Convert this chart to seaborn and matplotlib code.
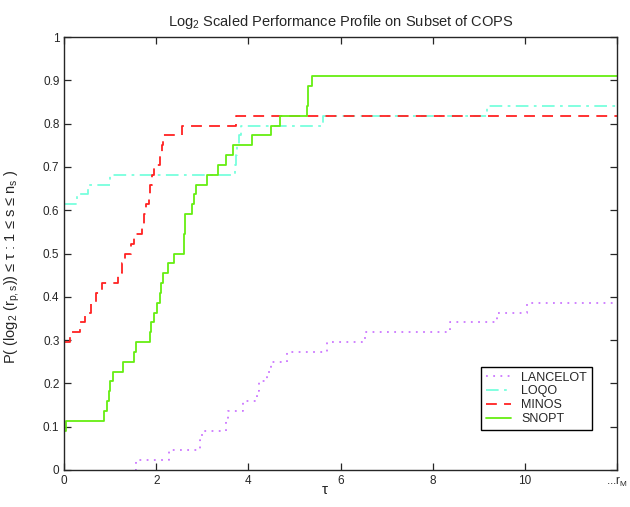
import matplotlib
matplotlib.use("Agg")
import matplotlib.pyplot as plt
import numpy as np
import pandas as pd
import seaborn as sns

N_PROBLEMS = 44
X_MAX = 12

# step breakpoints (tau) and number of problems solved within that ratio
LANCELOT_X = [1.54, 1.55, 2.28, 2.95, 2.99, 3.51, 3.55, 3.89, 4.18, 4.22, 4.40, 4.50, 4.84, 5.70, 6.54, 8.37, 9.40, 10.05, 12]
LANCELOT_N = [0, 1, 2, 3, 4, 5, 6, 7, 8, 9, 10, 11, 12, 13, 14, 15, 16, 17, 17]

LOQO_X = [0, 0.28, 0.52, 0.99, 3.70, 3.73, 3.76, 3.80, 3.83, 5.63, 9.18, 12]
LOQO_N = [27, 28, 29, 30, 31, 32, 33, 34, 35, 36, 37, 37]

MINOS_X = [0, 0.12, 0.34, 0.45, 0.57, 0.68, 0.81, 1.16, 1.26, 1.32, 1.46, 1.52, 1.69,
           1.73, 1.78, 1.83, 1.86, 1.90, 1.95, 2.09, 2.13, 2.15, 2.55, 3.74, 12]
MINOS_N = [13, 14, 15, 16, 17, 18, 19, 20, 21, 22, 23, 24, 25,
           26, 27, 28, 29, 30, 31, 32, 33, 34, 35, 36, 36]

SNOPT_X = [0, 0.04, 0.86, 0.935, 0.98, 0.99, 1.05, 1.28, 1.52, 1.55, 1.86, 1.89, 1.95, 2.01,
           2.08, 2.11, 2.14, 2.25, 2.39, 2.59, 2.62, 2.78, 2.82, 2.86, 3.10, 3.34, 3.52, 3.67,
           4.07, 4.48, 4.69, 5.28, 5.30, 5.385, 12]
SNOPT_N = [4, 5, 6, 7, 8, 9, 10, 11, 12, 13, 14, 15, 16, 17,
           18, 19, 20, 21, 22, 24, 26, 27, 28, 29, 30, 31, 32, 33,
           34, 35, 36, 37, 39, 40, 40]

SERIES = [
    ("LANCELOT", LANCELOT_X, LANCELOT_N, "#cc77ff", (0, (1, 3))),
    ("LOQO", LOQO_X, LOQO_N, "#77ffdd", (0, (7, 3, 1.5, 3))),
    ("MINOS", MINOS_X, MINOS_N, "#ff2222", (0, (6, 4))),
    ("SNOPT", SNOPT_X, SNOPT_N, "#66ee11", "-"),
]

X_TICKS = [0, 2, 4, 6, 8, 10, 12]
X_TICK_LABELS = ["0", "2", "4", "6", "8", "10", "...r$_M$"]
Y_TICKS = [0, 0.1, 0.2, 0.3, 0.4, 0.5, 0.6, 0.7, 0.8, 0.9, 1]
Y_TICK_LABELS = ["0", "0.1", "0.2", "0.3", "0.4", "0.5", "0.6", "0.7", "0.8", "0.9", "1"]


def main():
    sns.set_style("ticks")
    plt.rcParams["font.family"] = ["Liberation Sans", "DejaVu Sans"]
    plt.rcParams["mathtext.fontset"] = "custom"
    plt.rcParams["mathtext.rm"] = "Liberation Sans"
    plt.rcParams["mathtext.it"] = "Liberation Sans"

    fig = plt.figure(figsize=(6.3, 5.07), dpi=100)
    ax = fig.add_axes([0.102, 0.073, 0.877, 0.854])

    for name, xs, ns, color, ls in SERIES:
        df = pd.DataFrame({"tau": xs, "frac": np.array(ns) / N_PROBLEMS})
        sns.lineplot(data=df, x="tau", y="frac", ax=ax, color=color, linestyle=ls,
                     linewidth=1.3, drawstyle="steps-post", estimator=None, sort=False,
                     label=name)

    ax.set_xlim(0, X_MAX)
    ax.set_ylim(0, 1)
    ax.set_xticks(X_TICKS)
    ax.set_xticklabels(X_TICK_LABELS)
    ax.set_yticks(Y_TICKS)
    ax.set_yticklabels(Y_TICK_LABELS)
    ax.tick_params(direction="in", top=True, right=True, labelsize=8.5, length=5, width=0.9)
    for spine in ax.spines.values():
        spine.set_linewidth(1.0)
        spine.set_visible(True)

    ax.set_title("Log$_2$ Scaled Performance Profile on Subset of COPS", fontsize=10.5, pad=8)
    ax.set_xlabel("τ", fontsize=11)
    ax.xaxis.set_label_coords(0.472, -0.03)
    ax.set_ylabel("P( (log$_2$ (r$_{p,s}$)) ≤ τ : 1 ≤ s ≤ n$_s$ )", fontsize=10.5)
    ax.yaxis.set_label_coords(-0.076, 0.47)

    leg = ax.legend(loc="lower right", bbox_to_anchor=(0.955, 0.092), borderaxespad=0,
                    fontsize=9, fancybox=False, framealpha=1, edgecolor="black",
                    handlelength=2.0, borderpad=0.4, labelspacing=0.15)
    leg.get_frame().set_linewidth(1.0)

    fig.savefig("out.png", dpi=100)
    plt.close(fig)


if __name__ == "__main__":
    main()
